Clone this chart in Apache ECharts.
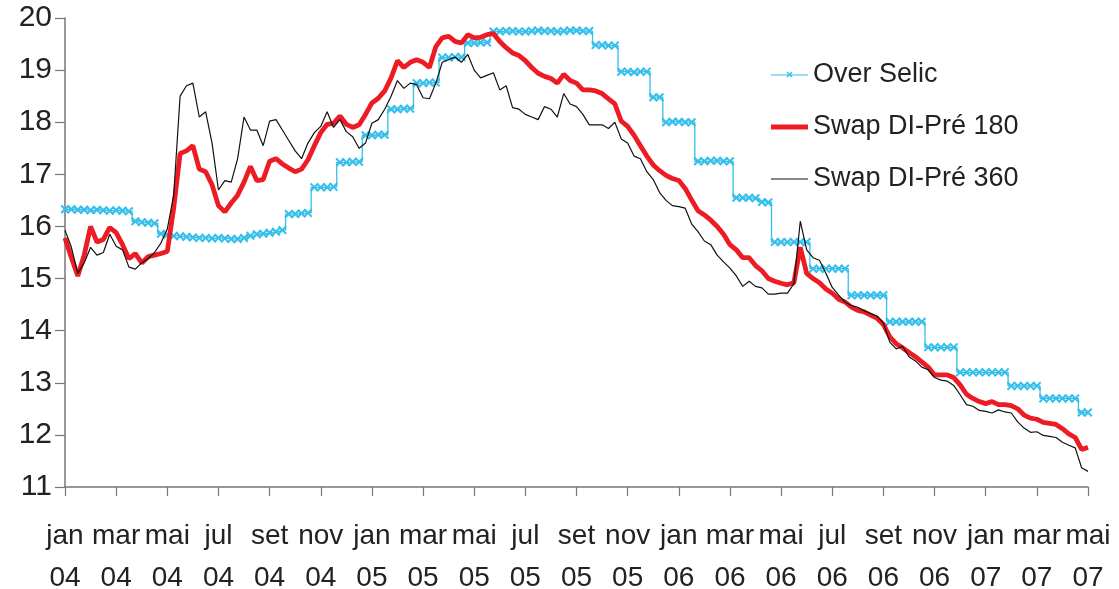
<!DOCTYPE html>
<html>
<head>
<meta charset="utf-8">
<script src="https://cdn.jsdelivr.net/npm/echarts@6/dist/echarts.min.js"></script>
<style>
  html, body { margin: 0; padding: 0; background: #fff; }
  #myChart { width: 1119px; height: 589px; }
</style>
</head>
<body>
<div id="myChart"></div>
<script>
// rótulos do eixo x (a cada 2 meses), amostras a cada 1/4 de mês
var monthLabels = ['jan\n04', 'mar\n04', 'mai\n04', 'jul\n04', 'set\n04', 'nov\n04',
  'jan\n05', 'mar\n05', 'mai\n05', 'jul\n05', 'set\n05', 'nov\n05',
  'jan\n06', 'mar\n06', 'mai\n06', 'jul\n06', 'set\n06', 'nov\n06',
  'jan\n07', 'mar\n07', 'mai\n07'];

var overSelic = [
  16.33, 16.33, 16.32, 16.32, 16.31, 16.32, 16.31, 16.30, 16.31, 16.30, 16.29,
  16.10, 16.08, 16.07, 16.06,
  15.86, 15.84, 15.82, 15.81, 15.80, 15.79, 15.78, 15.78, 15.77, 15.78,
  15.77, 15.76, 15.76, 15.78, 15.82, 15.85, 15.86, 15.88, 15.90, 15.93,
  16.24, 16.24, 16.25, 16.26,
  16.75, 16.75, 16.75, 16.76,
  17.23, 17.23, 17.24, 17.24,
  17.75, 17.75, 17.76, 17.76,
  18.25, 18.25, 18.26, 18.26,
  18.75, 18.75, 18.76, 18.76,
  19.24, 19.24, 19.25, 19.25,
  19.52, 19.52, 19.53, 19.53,
  19.74, 19.74, 19.75, 19.75, 19.74, 19.74, 19.75, 19.76,
  19.75, 19.75, 19.74, 19.75, 19.76, 19.76, 19.75, 19.75,
  19.48, 19.48, 19.47, 19.47,
  18.97, 18.97, 18.96, 18.97, 18.97,
  18.48, 18.48,
  18.00, 18.01, 18.01, 18.00, 18.00,
  17.25, 17.25, 17.26, 17.26, 17.25, 17.25,
  16.55, 16.55, 16.55, 16.54, 16.47, 16.46,
  15.70, 15.70, 15.70, 15.70, 15.70, 15.70,
  15.19, 15.19, 15.19, 15.19, 15.19, 15.19,
  14.68, 14.68, 14.68, 14.68, 14.68, 14.68,
  14.17, 14.17, 14.17, 14.17, 14.17, 14.17,
  13.68, 13.68, 13.68, 13.68, 13.68,
  13.20, 13.20, 13.20, 13.20, 13.20, 13.20, 13.20, 13.20,
  12.94, 12.94, 12.94, 12.94, 12.94,
  12.70, 12.70, 12.70, 12.70, 12.70, 12.70,
  12.43, 12.43
];

var swap180 = [
  15.78, 15.40, 15.05, 15.45, 16.00, 15.70, 15.75, 15.98, 15.88, 15.65,
  15.38, 15.48, 15.30, 15.42, 15.45, 15.48, 15.52, 16.35, 17.40, 17.45,
  17.55, 17.10, 17.05, 16.80, 16.40, 16.28, 16.45, 16.60, 16.85, 17.15,
  16.88, 16.90, 17.25, 17.30, 17.20, 17.12, 17.05, 17.10, 17.28, 17.55,
  17.80, 17.96, 17.98, 18.12, 17.96, 17.90, 17.95, 18.15, 18.37, 18.46,
  18.60, 18.85, 19.18, 19.05, 19.15, 19.20, 19.15, 19.05, 19.45, 19.62,
  19.65, 19.55, 19.52, 19.68, 19.62, 19.63, 19.68, 19.70, 19.55, 19.43,
  19.33, 19.28, 19.18, 19.05, 18.94, 18.88, 18.84, 18.75, 18.92, 18.80,
  18.75, 18.62, 18.62, 18.60, 18.55, 18.45, 18.35, 18.02, 17.92, 17.75,
  17.55, 17.35, 17.18, 17.07, 16.98, 16.92, 16.88, 16.73, 16.51, 16.30,
  16.22, 16.12, 16.00, 15.85, 15.65, 15.55, 15.40, 15.40, 15.25, 15.15,
  15.00, 14.95, 14.91, 14.88, 14.92, 15.60, 15.10, 15.00, 14.92, 14.80,
  14.72, 14.60, 14.55, 14.45, 14.39, 14.36, 14.30, 14.24, 14.12, 13.88,
  13.75, 13.67, 13.58, 13.50, 13.40, 13.30, 13.15, 13.15, 13.15, 13.10,
  12.96, 12.78, 12.70, 12.64, 12.60, 12.64, 12.58, 12.58, 12.56, 12.50,
  12.38, 12.32, 12.30, 12.24, 12.22, 12.20, 12.12, 12.02, 11.95, 11.72,
  11.76
];

var swap360 = [
  15.93, 15.60, 15.10, 15.30, 15.60, 15.45, 15.50, 15.85, 15.62, 15.55,
  15.22, 15.18, 15.30, 15.38, 15.50, 15.68, 15.95, 16.60, 18.50, 18.70,
  18.75, 18.10, 18.20, 17.60, 16.70, 16.88, 16.85, 17.30, 18.10, 17.85,
  17.85, 17.55, 18.02, 18.05, 17.85, 17.65, 17.45, 17.30, 17.60, 17.80,
  17.92, 18.20, 17.90, 18.05, 17.82, 17.72, 17.50, 17.60, 17.98, 18.05,
  18.25, 18.50, 18.80, 18.65, 18.75, 18.72, 18.47, 18.45, 18.75, 19.15,
  19.20, 19.25, 19.15, 19.30, 19.00, 18.85, 18.90, 18.95, 18.62, 18.70,
  18.28, 18.25, 18.15, 18.10, 18.05, 18.30, 18.25, 18.10, 18.55, 18.35,
  18.30, 18.15, 17.95, 17.95, 17.95, 17.88, 18.00, 17.68, 17.60, 17.35,
  17.30, 17.05, 16.90, 16.65, 16.50, 16.40, 16.38, 16.35, 16.05, 15.90,
  15.72, 15.65, 15.45, 15.32, 15.20, 15.05, 14.85, 14.95, 14.85, 14.82,
  14.70, 14.70, 14.72, 14.72, 14.90, 16.10, 15.55, 15.40, 15.35, 15.10,
  14.83, 14.68, 14.55, 14.48, 14.45, 14.38, 14.33, 14.28, 14.15, 13.78,
  13.65, 13.70, 13.50, 13.42, 13.30, 13.25, 13.10, 13.05, 13.03, 12.95,
  12.77, 12.58, 12.55, 12.47, 12.45, 12.42, 12.48, 12.44, 12.42, 12.25,
  12.13, 12.05, 12.06, 11.99, 11.97, 11.95, 11.86, 11.80, 11.75, 11.37,
  11.30
];

// categorias: meses desde jan 04, em passos de 1/4
var categories = [];
for (var i = 0; i < swap180.length; i++) {
  categories.push((i / 4).toFixed(2));
}

var xMark = 'path://M0,1.6 L1.6,0 L5,3.4 L8.4,0 L10,1.6 L6.6,5 L10,8.4 L8.4,10 L5,6.6 L1.6,10 L0,8.4 L3.4,5 Z';
// ícones da legenda (linha fina com x, linha grossa, linha fina)
var iconSelic = 'path://M0,6.4 L37,6.4 L37,7.6 L0,7.6 Z M15.5,4.5 L16.5,3.5 L18.5,5.5 L20.5,3.5 L21.5,4.5 L19.5,6.5 L21.5,8.5 L20.5,9.5 L18.5,7.5 L16.5,9.5 L15.5,8.5 L17.5,6.5 Z M0,0 L0.01,0 L0.01,14 L0,14 Z';
var icon180 = 'path://M0,4.6 L37,4.6 L37,9.4 L0,9.4 Z M0,0 L0.01,0 L0.01,14 L0,14 Z';
var icon360 = 'path://M0,6.4 L37,6.4 L37,7.6 L0,7.6 Z M0,0 L0.01,0 L0.01,14 L0,14 Z';

var font = '"Liberation Sans", Arial, sans-serif';

var option = {
  animation: false,
  backgroundColor: '#fff',
  grid: { left: 65, right: 31, top: 18, bottom: 102, outerBoundsMode: 'none' },
  legend: {
    orient: 'vertical',
    left: 771,
    top: 60,
    padding: 0,
    itemWidth: 37,
    itemHeight: 14,
    itemGap: 22,
    textStyle: { fontFamily: font, fontSize: 27, color: '#222', lineHeight: 30 },
    data: [
      { name: 'Over Selic', icon: iconSelic },
      { name: 'Swap DI-Pré 180', icon: icon180 },
      { name: 'Swap DI-Pré 360', icon: icon360 }
    ]
  },
  xAxis: {
    type: 'category',
    boundaryGap: false,
    data: categories,
    axisLine: { lineStyle: { color: '#777', width: 1.5 } },
    axisTick: { interval: 7, length: 9, lineStyle: { color: '#777', width: 1.2 } },
    axisLabel: {
      interval: 7,
      margin: 28,
      fontFamily: font,
      fontSize: 28,
      lineHeight: 42,
      color: '#222',
      hideOverlap: false,
      showMaxLabel: true,
      formatter: function (value, index) {
        return index % 8 === 0 ? monthLabels[index / 8] : '';
      }
    },
    splitLine: { show: false }
  },
  yAxis: {
    type: 'value',
    min: 11,
    max: 20,
    interval: 1,
    axisLine: { show: true, lineStyle: { color: '#777', width: 1.5 } },
    axisTick: { show: true, length: 10, lineStyle: { color: '#777', width: 1.2 } },
    axisLabel: { margin: 13, fontFamily: font, fontSize: 30, color: '#222' },
    splitLine: { show: false }
  },
  series: [
    {
      name: 'Over Selic',
      type: 'line',
      data: overSelic,
      step: 'middle',
      symbol: xMark,
      symbolSize: 9,
      showAllSymbol: true,
      itemStyle: { color: '#35bfea' },
      lineStyle: { color: '#35bfea', width: 1.3 },
      z: 2
    },
    {
      name: 'Swap DI-Pré 180',
      type: 'line',
      data: swap180,
      symbol: 'none',
      itemStyle: { color: '#ed1c24' },
      lineStyle: { color: '#ed1c24', width: 4.8 },
      z: 3
    },
    {
      name: 'Swap DI-Pré 360',
      type: 'line',
      data: swap360,
      symbol: 'none',
      itemStyle: { color: '#111' },
      lineStyle: { color: '#111', width: 1.2 },
      z: 4
    }
  ]
};

var myChart = echarts.init(document.getElementById('myChart'));
myChart.setOption(option);
</script>
</body>
</html>
